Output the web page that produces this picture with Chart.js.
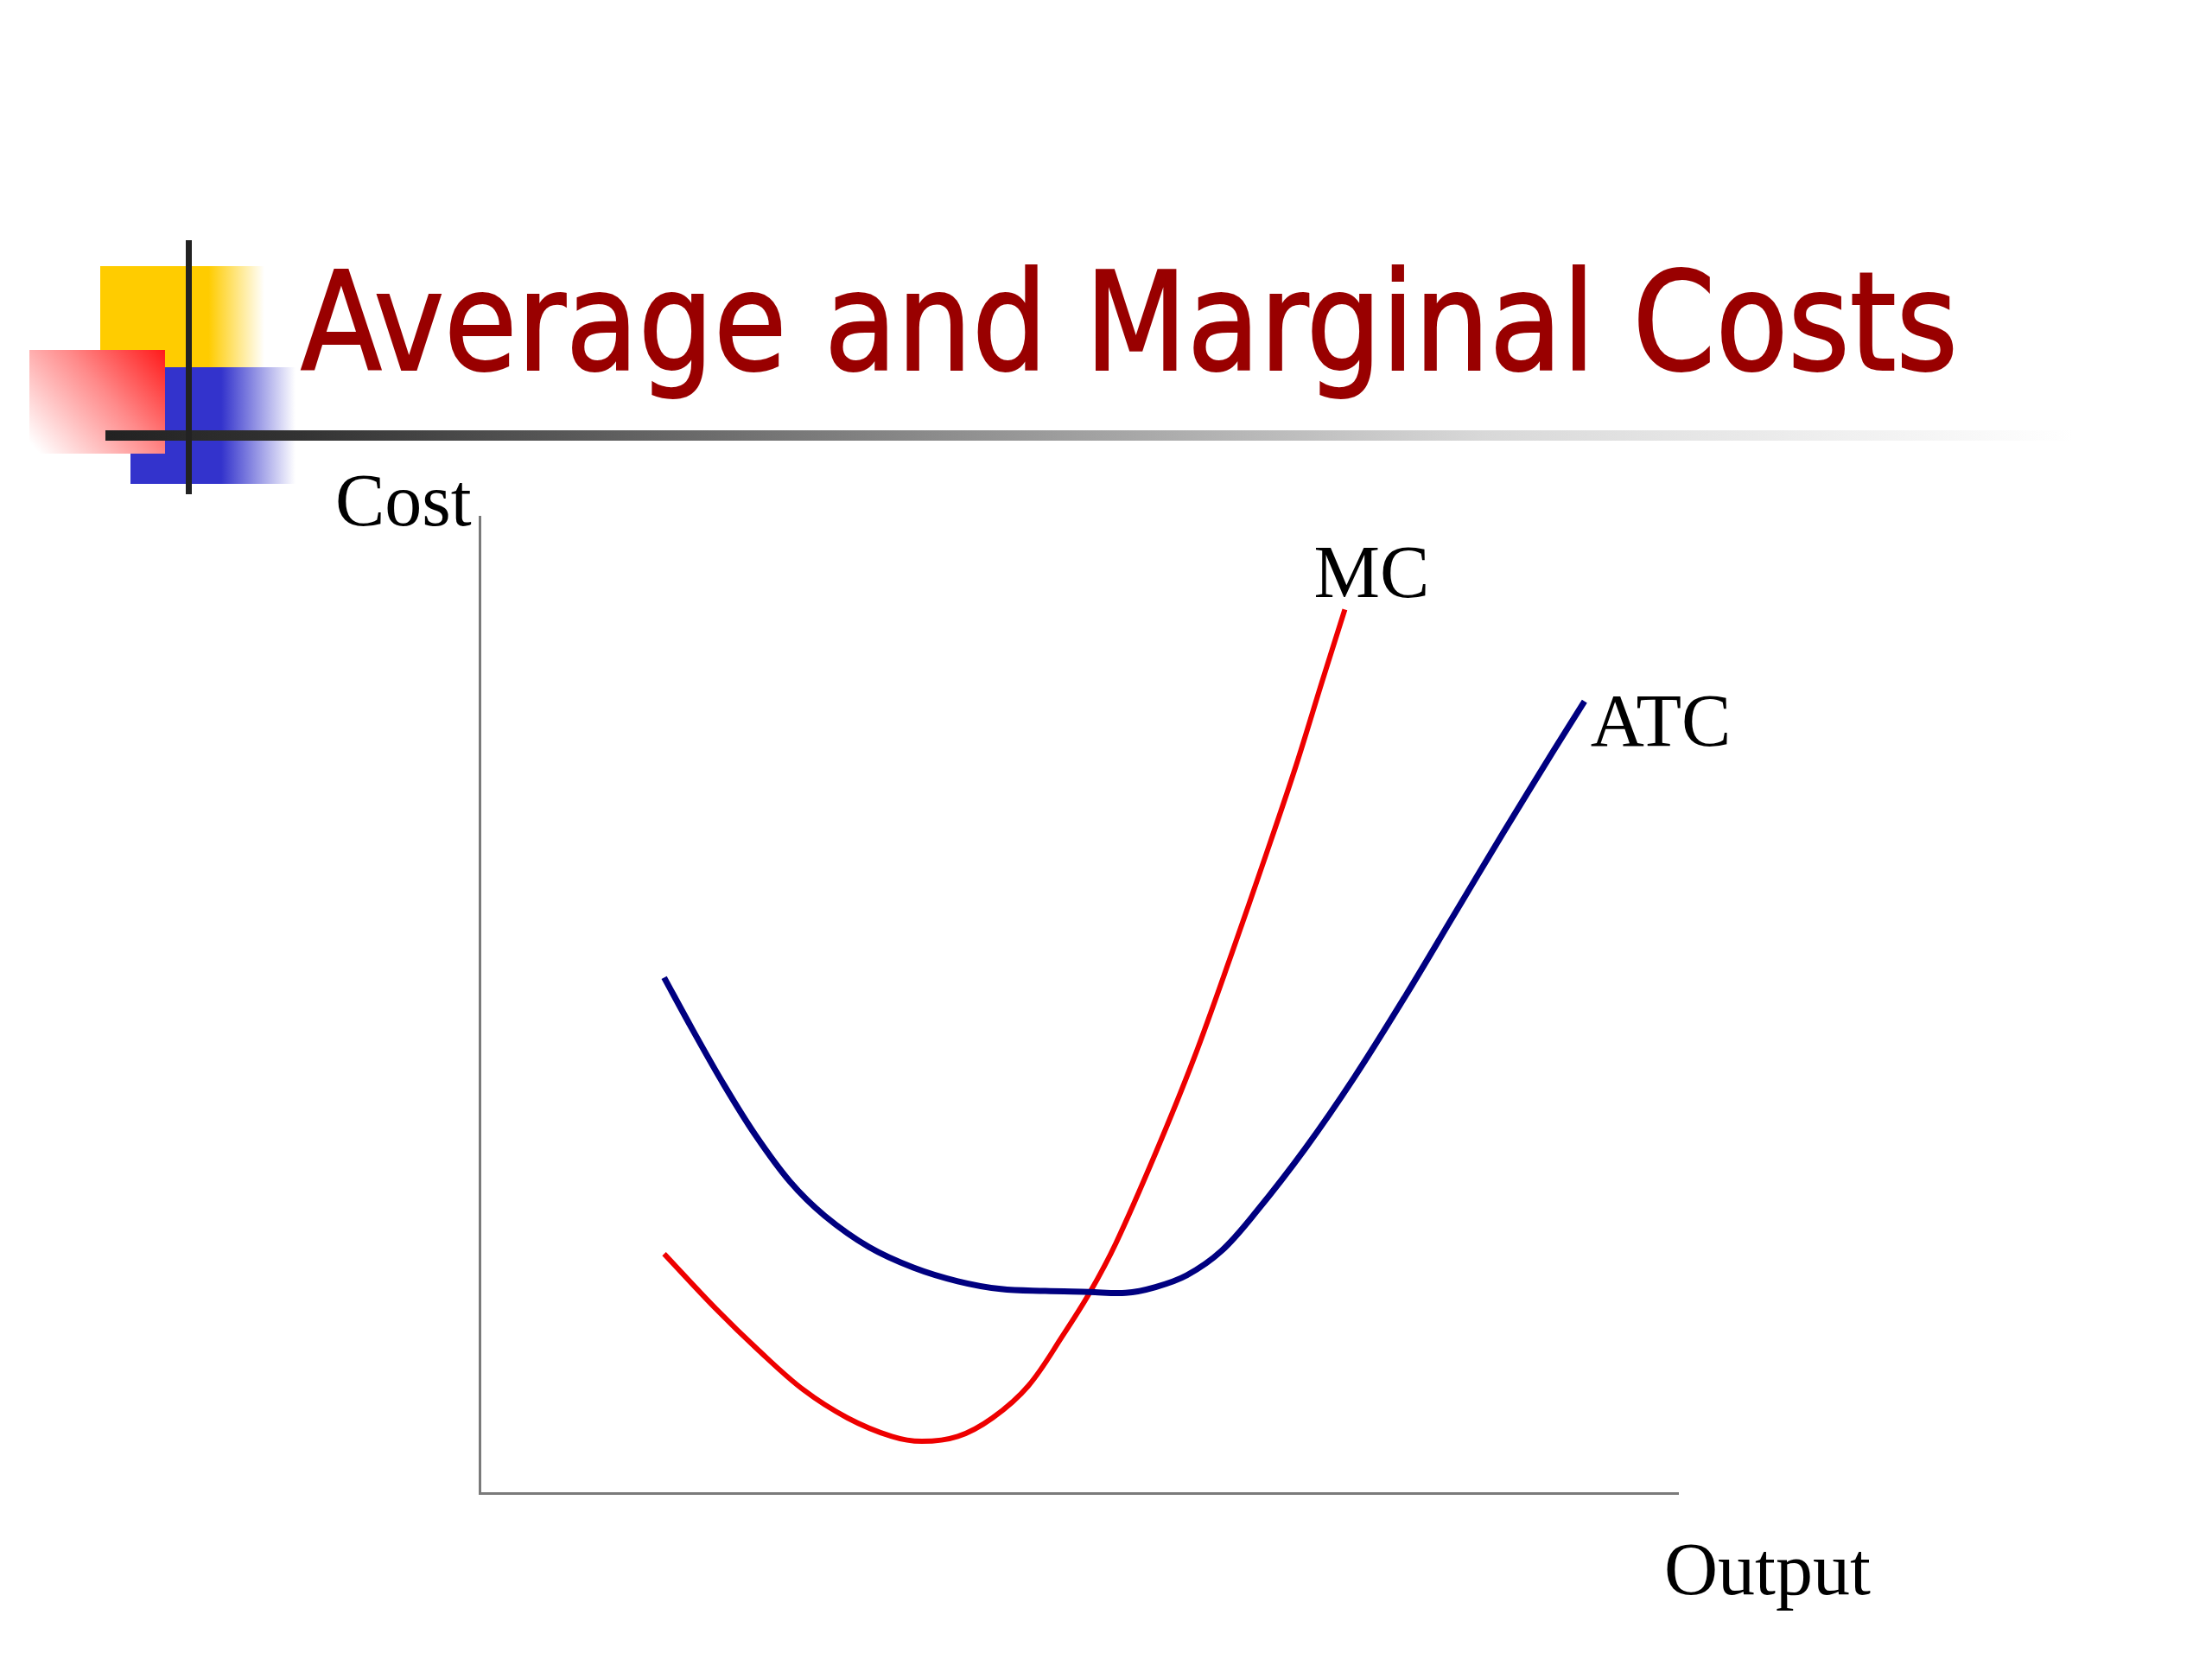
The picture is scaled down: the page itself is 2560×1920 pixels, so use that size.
<!DOCTYPE html>
<html>
<head>
<meta charset="utf-8">
<title>Average and Marginal Costs</title>
<script src="https://cdn.jsdelivr.net/npm/chart.js@4.4.1/dist/chart.umd.min.js"></script>
<style>
  html, body { margin: 0; padding: 0; background: #ffffff; }
  #wrap { position: relative; width: 2560px; height: 1920px; }
  canvas { display: block; }
</style>
</head>
<body>
<div id="wrap"><canvas id="c" width="2560" height="1920"></canvas></div>
<script>
// ---- data (output, cost on a 0-100 scale) ----
const titleText = "Average and Marginal Costs";
const yAxisName = "Cost";
const xAxisName = "Output";
const seriesNames = ["ATC", "MC"];

const atcX = [15.4, 17.8, 20.4, 23.0, 25.9, 28.8, 32.5, 36.2, 39.9, 43.5, 47.2, 50.9, 53.9, 56.4, 59.0, 61.9, 64.8, 68.9, 73.0, 77.2, 81.3, 85.4, 89.6, 92.2];
const atcY = [52.8, 47.4, 41.8, 36.7, 31.9, 28.4, 25.2, 23.1, 21.7, 20.9, 20.7, 20.6, 20.5, 21.1, 22.3, 24.8, 28.8, 35.3, 42.6, 50.8, 59.2, 67.6, 76.0, 81.1];

const mcX = [15.4, 19.7, 23.3, 27.0, 30.7, 34.4, 36.9, 39.9, 42.8, 45.8, 48.7, 50.9, 53.1, 56.4, 59.6, 62.8, 65.6, 68.1, 70.3, 72.2];
const mcY = [24.5, 18.9, 14.6, 10.6, 7.7, 5.8, 5.3, 5.8, 7.7, 11.0, 16.2, 20.5, 25.6, 34.8, 44.5, 55.4, 65.3, 74.4, 83.1, 90.5];

const axisMin = 0;
const axisMax = 100;

function toPoints(xs, ys) { return xs.map((x, i) => ({ x: x, y: ys[i] })); }

// ---- slide decoration + title (drawn behind the chart) ----
const slideDecor = {
  id: 'slideDecor',
  beforeDraw(chart) {
    const ctx = chart.ctx;
    ctx.save();
    ctx.fillStyle = '#ffffff';
    ctx.fillRect(0, 0, chart.width, chart.height);

    // yellow block
    let g = ctx.createLinearGradient(116, 0, 306, 0);
    g.addColorStop(0, '#ffcc00');
    g.addColorStop(0.66, '#ffcc00');
    g.addColorStop(1, 'rgba(255,204,0,0)');
    ctx.fillStyle = g;
    ctx.fillRect(116, 308, 190, 117);

    // blue block
    g = ctx.createLinearGradient(151, 0, 342, 0);
    g.addColorStop(0, '#3333cc');
    g.addColorStop(0.55, '#3333cc');
    g.addColorStop(1, 'rgba(51,51,204,0)');
    ctx.fillStyle = g;
    ctx.fillRect(151, 425, 191, 135);

    // red block (opaque, fades from top-right corner to white)
    g = ctx.createLinearGradient(191, 405, 50, 530);
    g.addColorStop(0, '#ff1a1a');
    g.addColorStop(0.45, '#ff8a8a');
    g.addColorStop(1, '#ffffff');
    ctx.fillStyle = g;
    ctx.fillRect(34, 405, 157, 120);

    // horizontal rule
    g = ctx.createLinearGradient(122, 0, 2400, 0);
    g.addColorStop(0, '#222222');
    g.addColorStop(0.1, '#333333');
    g.addColorStop(0.47, '#999999');
    g.addColorStop(0.7, '#d8d8d8');
    g.addColorStop(1, '#ffffff');
    ctx.fillStyle = g;
    ctx.fillRect(122, 498, 2278, 12);

    // vertical rule
    ctx.fillStyle = '#222222';
    ctx.fillRect(215, 278, 7, 294);

    // title
    ctx.fillStyle = '#990000';
    ctx.strokeStyle = '#990000';
    ctx.lineWidth = 2;
    ctx.font = '158px "DejaVu Sans Condensed", "DejaVu Sans", sans-serif';
    ctx.textBaseline = 'alphabetic';
    ctx.textAlign = 'left';
    ctx.fillText(titleText, 348, 428, 1918);
    ctx.strokeText(titleText, 348, 428, 1918);
    ctx.restore();
  }
};

// ---- axis names and curve labels ----
const curveLabels = {
  id: 'curveLabels',
  afterDraw(chart) {
    const ctx = chart.ctx;
    const xs = chart.scales.x, ys = chart.scales.y;
    ctx.save();
    ctx.fillStyle = '#000000';
    ctx.font = '86px "Liberation Serif", "Times New Roman", serif';
    ctx.textBaseline = 'alphabetic';
    ctx.textAlign = 'left';
    ctx.fillText(yAxisName, xs.left - 167, ys.top + 10);
    ctx.fillText(xAxisName, xs.right - 16, ys.bottom + 117);
    const atcEndX = xs.getPixelForValue(atcX[atcX.length - 1]);
    const atcEndY = ys.getPixelForValue(atcY[atcY.length - 1]);
    ctx.fillText(seriesNames[0], atcEndX + 7, atcEndY + 51);
    const mcEndX = xs.getPixelForValue(mcX[mcX.length - 1]);
    const mcEndY = ys.getPixelForValue(mcY[mcY.length - 1]);
    ctx.fillText(seriesNames[1], mcEndX - 36, mcEndY - 14);
    ctx.restore();
  }
};

const chart = new Chart(document.getElementById('c'), {
  type: 'scatter',
  data: {
    datasets: [
      {
        label: seriesNames[0],
        data: toPoints(atcX, atcY),
        showLine: true,
        borderColor: '#000080',
        borderWidth: 7,
        pointRadius: 0,
        tension: 0.35,
        borderCapStyle: 'butt',
        borderJoinStyle: 'round',
        fill: false
      },
      {
        label: seriesNames[1],
        data: toPoints(mcX, mcY),
        showLine: true,
        borderColor: '#ee0000',
        borderWidth: 6,
        pointRadius: 0,
        tension: 0.35,
        borderCapStyle: 'butt',
        borderJoinStyle: 'round',
        fill: false
      }
    ]
  },
  options: {
    responsive: false,
    devicePixelRatio: 1,
    animation: false,
    layout: { padding: { left: 555, top: 598, right: 618, bottom: 192 } },
    plugins: {
      legend: { display: false },
      tooltip: { enabled: false },
      title: { display: false }
    },
    scales: {
      x: {
        type: 'linear', min: axisMin, max: axisMax,
        grid: { display: false },
        ticks: { display: false },
        border: { display: true, color: '#7a7a7a', width: 3 },
        afterFit(s) { s.height = 0; }
      },
      y: {
        type: 'linear', min: axisMin, max: axisMax,
        grid: { display: false },
        ticks: { display: false },
        border: { display: true, color: '#7a7a7a', width: 3 },
        afterFit(s) { s.width = 0; }
      }
    }
  },
  plugins: [slideDecor, curveLabels]
});
</script>
</body>
</html>
